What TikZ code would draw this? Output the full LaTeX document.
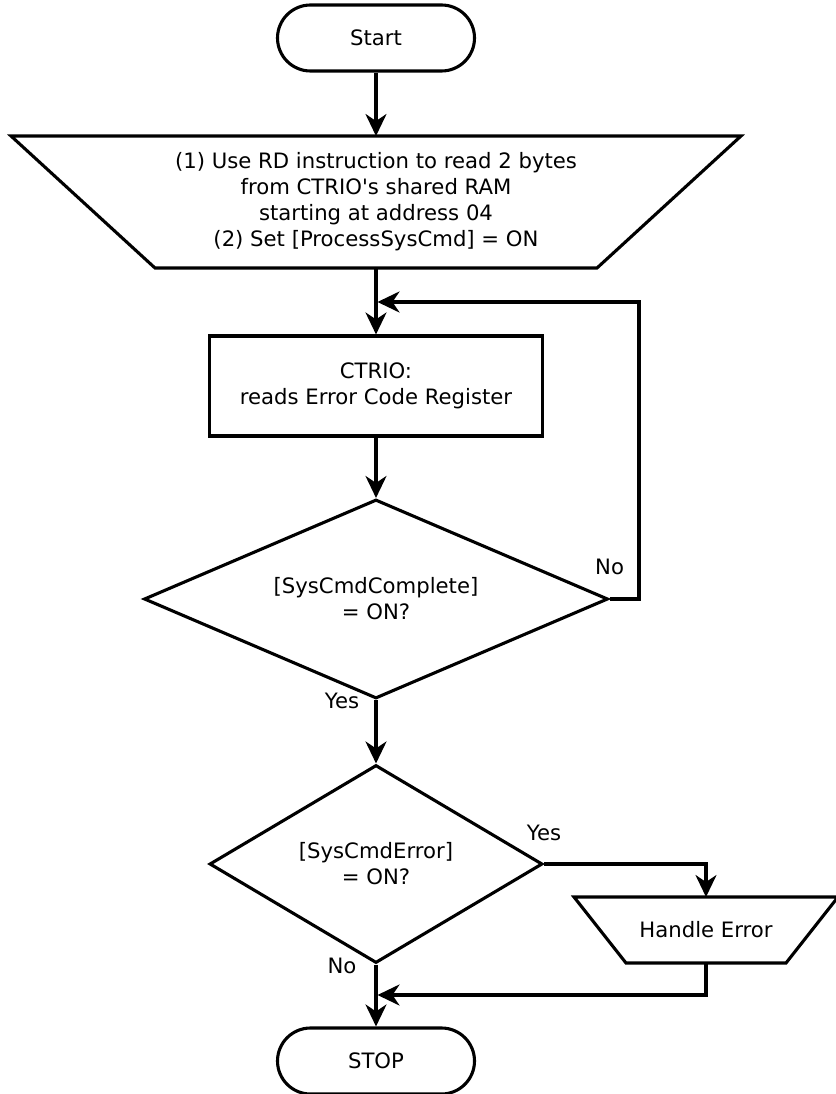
\documentclass[tikz,border=0pt]{standalone}
\usepackage{fontspec}
\setmainfont{DejaVu Sans}[Ligatures=TeXOff]
\usetikzlibrary{shapes.geometric,arrows.meta,calc}

\begin{document}
\begin{tikzpicture}[x=1pt,y=-1pt,
  line width=3.1pt, line join=miter,
  >={Stealth[length=22pt,width=21pt,inset=7pt]},
  txt/.style={font=\fontsize{21.2}{26}\selectfont},
  base/.style={txt, align=center, inner sep=0pt},
  term/.style={base, draw, rectangle, rounded corners=33pt, minimum width=197pt, minimum height=66pt},
  io/.style={base, rectangle, outer sep=0pt},
  proc/.style={base, draw, rectangle, minimum width=333pt, minimum height=100pt},
  dec/.style={base, draw, diamond, aspect=2.3},
  lbl/.style={txt, inner sep=0pt},
  flow/.style={->}
]
\useasboundingbox (0,0) rectangle (835,1094);

% flow steps
\node[term] (start) at (376,38) {Start};
\node[io, minimum width=730pt, minimum height=132pt] (read) at (376,202)
  {(1) Use RD instruction to read 2 bytes\\from CTRIO's shared RAM\\starting at address 04\\(2) Set [ProcessSysCmd] = ON};
\node[proc] (ctrio) at (376,386) {CTRIO:\\reads Error Code Register};
\node[dec, minimum width=464pt, minimum height=199pt] (done) at (376,599) {[SysCmdComplete]\\= ON?};
\node[dec, minimum width=333pt, minimum height=198pt] (err) at (376,864) {[SysCmdError]\\= ON?};
\node[io, minimum width=264pt, minimum height=66pt] (handle) at (706,930) {Handle Error};
\node[term] (stop) at (376,1061) {STOP};

% manual-operation outlines (wide at the top)
\draw (read.north west) -- (read.north east)
  -- ([xshift=-144pt]read.south east) -- ([xshift=144pt]read.south west) -- cycle;
\draw (handle.north west) -- (handle.north east)
  -- ([xshift=-52pt]handle.south east) -- ([xshift=52pt]handle.south west) -- cycle;

% bend points of the loop-back and merge lines
\coordinate (loopTop) at (639,302);
\coordinate (loopIn) at (377.5,302);
\coordinate (mergeIn) at (377.5,995);

% connectors
\draw[flow] (start.south) -- (read.north);
\draw[flow] (read.south) -- (ctrio.north);
\draw[flow] (done.east) -| (loopTop) -- (loopIn);
\draw[flow] (ctrio.south) -- (done.north);
\draw[flow] (done.south) -- (err.north);
\draw[flow] (err.east) -| (handle.north);
\draw[flow] (handle.south) |- (mergeIn);
\draw[flow] (err.south) -- (stop.north);

% branch labels
\node[lbl] at ($(done.east)+(0,-32)$) {No};
\node[lbl] at ($(done.south)+(-34,1)$) {Yes};
\node[lbl] at ($(err.east)+(0,-31)$) {Yes};
\node[lbl] at ($(err.south)+(-34,1)$) {No};
\end{tikzpicture}
\end{document}
